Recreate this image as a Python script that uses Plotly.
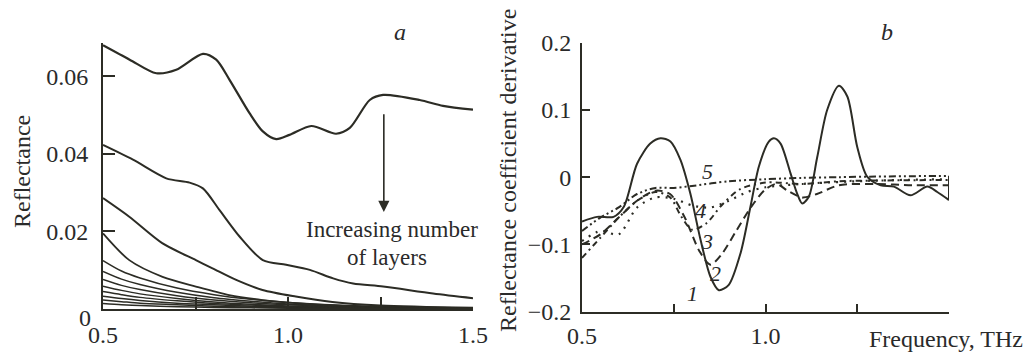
import plotly.graph_objects as go

# ---------------- panel a: reflectance for a growing layer stack ----------------
freq_a1 = [0.5, 0.572, 0.644, 0.698, 0.770, 0.806, 0.842, 0.896, 0.932, 0.968,
           1.004, 1.063, 1.130, 1.167, 1.221, 1.257, 1.356, 1.419, 1.5]
refl_a1 = [0.0680, 0.0643, 0.0608, 0.0617, 0.0658, 0.0643, 0.0591, 0.0505, 0.0458, 0.0438,
           0.0449, 0.0472, 0.0452, 0.0467, 0.0539, 0.0552, 0.0539, 0.0524, 0.0514]

freq_a2 = [0.5, 0.581, 0.671, 0.734, 0.770, 0.815, 0.869, 0.932, 0.995, 1.059,
           1.122, 1.176, 1.257, 1.392, 1.5]
refl_a2 = [0.0423, 0.0385, 0.0337, 0.0326, 0.0311, 0.0255, 0.0187, 0.0126, 0.0114, 0.0101,
           0.0079, 0.0066, 0.0058, 0.0040, 0.0028]

freq_a3 = [0.5, 0.571, 0.660, 0.751, 0.796, 0.860, 0.931, 1.021, 1.12, 1.25, 1.5]
refl_a3 = [0.0286, 0.0238, 0.0170, 0.0126, 0.0105, 0.0075, 0.0049, 0.0032, 0.0018, 0.0009, 0.0003]

freq_a4 = [0.5, 0.571, 0.661, 0.751, 0.841, 0.931, 1.02, 1.15, 1.3, 1.5]
refl_a4 = [0.0195, 0.0126, 0.0083, 0.0058, 0.0036, 0.0023, 0.0015, 0.0008, 0.0004, 0.0002]

# thicker stacks share one frequency grid
freq_thick = [0.5, 0.55, 0.6, 0.7, 0.8, 0.9, 1.0, 1.2, 1.5]
refl_thick = [
    [0.0125, 0.0098, 0.0080, 0.0054, 0.0037, 0.0025, 0.0017, 0.0008, 0.0003],
    [0.0097, 0.0077, 0.0063, 0.0043, 0.0029, 0.0020, 0.0013, 0.0006, 0.0002],
    [0.0076, 0.0061, 0.0050, 0.0034, 0.0023, 0.0016, 0.0011, 0.0005, 0.0002],
    [0.0059, 0.0048, 0.0039, 0.0027, 0.0018, 0.0012, 0.0008, 0.0004, 0.0001],
    [0.0045, 0.0037, 0.0030, 0.0021, 0.0014, 0.0010, 0.0006, 0.0003, 0.0001],
    [0.0033, 0.0027, 0.0022, 0.0015, 0.0011, 0.0007, 0.0005, 0.0002, 0.0001],
    [0.0023, 0.0019, 0.0015, 0.0011, 0.0007, 0.0005, 0.0003, 0.0002, 0.0001],
    [0.0014, 0.0011, 0.0009, 0.0006, 0.0004, 0.0003, 0.0002, 0.0001, 0.0000],
]

# ---------------- panel b: derivative of the reflection coefficient ----------------
freq_b1 = [0.5, 0.541, 0.586, 0.614, 0.65, 0.686, 0.714, 0.741, 0.768, 0.795, 0.823, 0.85,
           0.873, 0.9, 0.932, 0.959, 0.982, 1.009, 1.023, 1.041, 1.068, 1.086, 1.1, 1.118,
           1.141, 1.168, 1.2, 1.223, 1.25, 1.277, 1.314, 1.35, 1.395, 1.441, 1.468, 1.5]
deriv_b1 = [-0.066, -0.059, -0.059, -0.044, 0.020, 0.050, 0.058, 0.053, 0.026, -0.024, -0.093,
            -0.148, -0.168, -0.160, -0.113, -0.044, 0.016, 0.053, 0.058, 0.050, 0.006, -0.024,
            -0.039, -0.029, 0.030, 0.100, 0.136, 0.120, 0.045, 0.001, -0.012, -0.014, -0.027,
            -0.014, -0.022, -0.034]

freq_b2 = [0.5, 0.55, 0.6, 0.65, 0.7, 0.74, 0.78, 0.82, 0.85, 0.88, 0.92, 0.96, 1.0, 1.03,
           1.06, 1.1, 1.14, 1.2, 1.3, 1.4, 1.5]
deriv_b2 = [-0.100, -0.085, -0.060, -0.035, -0.020, -0.025, -0.060, -0.110, -0.130, -0.115,
            -0.080, -0.045, -0.018, -0.010, -0.020, -0.030, -0.025, -0.012, -0.010, -0.012, -0.012]

freq_b3 = [0.5, 0.55, 0.6, 0.65, 0.7, 0.74, 0.77, 0.80, 0.84, 0.88, 0.93, 1.0, 1.1, 1.2, 1.3, 1.5]
deriv_b3 = [-0.120, -0.090, -0.060, -0.035, -0.022, -0.030, -0.058, -0.078, -0.068, -0.042,
            -0.018, -0.008, -0.010, -0.006, -0.005, -0.004]

freq_b4 = [0.5, 0.55, 0.6, 0.65, 0.7, 0.75, 0.8, 0.85, 0.9, 0.95, 1.0, 1.1, 1.3, 1.5]
deriv_b4 = [-0.095, -0.080, -0.085, -0.045, -0.030, -0.032, -0.042, -0.045, -0.035, -0.022,
            -0.015, -0.010, -0.005, -0.003]

freq_b5 = [0.5, 0.55, 0.6, 0.65, 0.7, 0.75, 0.8, 0.9, 1.0, 1.1, 1.2, 1.3, 1.5]
deriv_b5 = [-0.080, -0.060, -0.045, -0.025, -0.016, -0.016, -0.013, -0.006, -0.003, -0.001,
            0.000, 0.001, 0.002]

curve_numbers = ["1", "2", "3", "4", "5"]
number_x = [0.800, 0.864, 0.840, 0.823, 0.841]
number_y = [-0.173, -0.143, -0.095, -0.050, 0.008]

ticks_a_y = [0.02, 0.04, 0.06]
ticks_a_y_text = ["0.02", "0.04", "0.06"]
ticks_x = [0.5, 0.75, 1.0, 1.25, 1.5]
ticks_a_x_text = ["0.5", "", "1.0", "", "1.5"]
ticks_b_x_text = ["0.5", "", "1.0", "", ""]
ticks_b_y = [-0.2, -0.1, 0, 0.1, 0.2]
ticks_b_y_text = ["\u22120.2", "\u22120.1", "0", "0.1", "0.2"]

INK = "#2c2c25"
FONT = "Liberation Serif"

W, H = 1033, 352
fig = go.Figure()


def add_line(x, y, axes, width=2.0, dash="solid"):
    fig.add_trace(go.Scatter(
        x=x, y=y, mode="lines", xaxis=axes[0], yaxis=axes[1],
        line=dict(color=INK, width=width, dash=dash, shape="spline", smoothing=0.8),
        showlegend=False, hoverinfo="skip"))


add_line(freq_a1, refl_a1, ("x", "y"), 2.2)
add_line(freq_a2, refl_a2, ("x", "y"), 2.0)
add_line(freq_a3, refl_a3, ("x", "y"), 2.0)
add_line(freq_a4, refl_a4, ("x", "y"), 1.8)
for series in refl_thick:
    add_line(freq_thick, series, ("x", "y"), 1.5)

add_line(freq_b1, deriv_b1, ("x2", "y2"), 2.0)
add_line(freq_b2, deriv_b2, ("x2", "y2"), 2.0, "8px,5px")
add_line(freq_b3, deriv_b3, ("x2", "y2"), 2.0, "6px,4px,2px,4px")
add_line(freq_b4, deriv_b4, ("x2", "y2"), 2.2, "2px,6px")
add_line(freq_b5, deriv_b5, ("x2", "y2"), 2.0, "7px,3px,2px,3px,2px,3px")

# closing bar joining the right-hand ends of the panel-b curves
ends_b = [deriv_b1[-1], deriv_b2[-1], deriv_b3[-1], deriv_b4[-1], deriv_b5[-1]]
fig.add_trace(go.Scatter(x=[freq_b1[-1], freq_b1[-1]], y=[max(ends_b), min(ends_b)],
                         mode="lines", xaxis="x2", yaxis="y2",
                         line=dict(color=INK, width=2), showlegend=False, hoverinfo="skip"))

axis_common = dict(showline=True, linecolor=INK, linewidth=2, ticks="inside",
                   tickcolor=INK, tickwidth=2, showgrid=False, zeroline=False,
                   automargin=False,
                   tickfont=dict(family=FONT, size=24, color="#2a2a2a"), fixedrange=True)

fig.update_layout(
    width=W, height=H,
    margin=dict(l=0, r=0, t=0, b=0, pad=0, autoexpand=False),
    paper_bgcolor="white", plot_bgcolor="white",
    xaxis=dict(domain=[103 / W, 473 / W], range=[0.5, 1.5], anchor="y",
               tickmode="array", tickvals=ticks_x, ticktext=ticks_a_x_text,
               ticklen=12, ticklabelstandoff=3, **axis_common),
    yaxis=dict(domain=[1 - 309 / H, 1 - 43 / H], range=[0, 0.0686], anchor="x",
               tickmode="array", tickvals=ticks_a_y, ticktext=ticks_a_y_text,
               ticklen=12, ticklabelstandoff=8, **axis_common),
    xaxis2=dict(domain=[582 / W, 949 / W], range=[0.5, 1.5], anchor="y2",
                tickmode="array", tickvals=ticks_x, ticktext=ticks_b_x_text,
                ticklen=8, ticklabelstandoff=1, **axis_common),
    yaxis2=dict(domain=[1 - 311.7 / H, 1 - 42.7 / H], range=[-0.2, 0.2], anchor="x2",
                tickmode="array", tickvals=ticks_b_y, ticktext=ticks_b_y_text,
                ticklen=8, ticklabelstandoff=4, **axis_common),
)

text_font = dict(family=FONT, size=24, color="#2a2a2a")

annotations = [
    dict(text="Reflectance", x=22, y=172, textangle=-90),
    dict(text="Reflectance coefficient derivative", x=508, y=171, textangle=-90),
    dict(text="<i>a</i>", x=400, y=32),
    dict(text="<i>b</i>", x=887, y=32),
    dict(text="Frequency, THz", x=867, y=339, xanchor="left"),
    dict(text="0", x=85, y=318),
]
for ann in annotations:
    fig.add_annotation(xref="paper", yref="paper", showarrow=False,
                       x=ann["x"] / W, y=1 - ann["y"] / H, text=ann["text"],
                       textangle=ann.get("textangle", 0),
                       xanchor=ann.get("xanchor", "center"), yanchor="middle",
                       font=text_font)

# arrow showing the trend with stack thickness
fig.add_annotation(xref="x", yref="y", axref="x", ayref="y",
                   x=1.259, y=0.025, ax=1.259, ay=0.0506, text="",
                   showarrow=True, arrowhead=2, arrowsize=1.4, arrowwidth=1.6,
                   arrowcolor=INK)
fig.add_annotation(xref="x", yref="y", x=1.280, y=0.0204, text="Increasing number",
                   showarrow=False, font=dict(family=FONT, size=23, color="#2a2a2a"))
fig.add_annotation(xref="x", yref="y", x=1.267, y=0.0134, text="of layers",
                   showarrow=False, font=dict(family=FONT, size=23, color="#2a2a2a"))

for label, lx, ly in zip(curve_numbers, number_x, number_y):
    fig.add_annotation(xref="x2", yref="y2", x=lx, y=ly, text="<i>" + label + "</i>",
                       showarrow=False, font=dict(family=FONT, size=22, color="#2a2a2a"))

fig.write_html("out.html")
